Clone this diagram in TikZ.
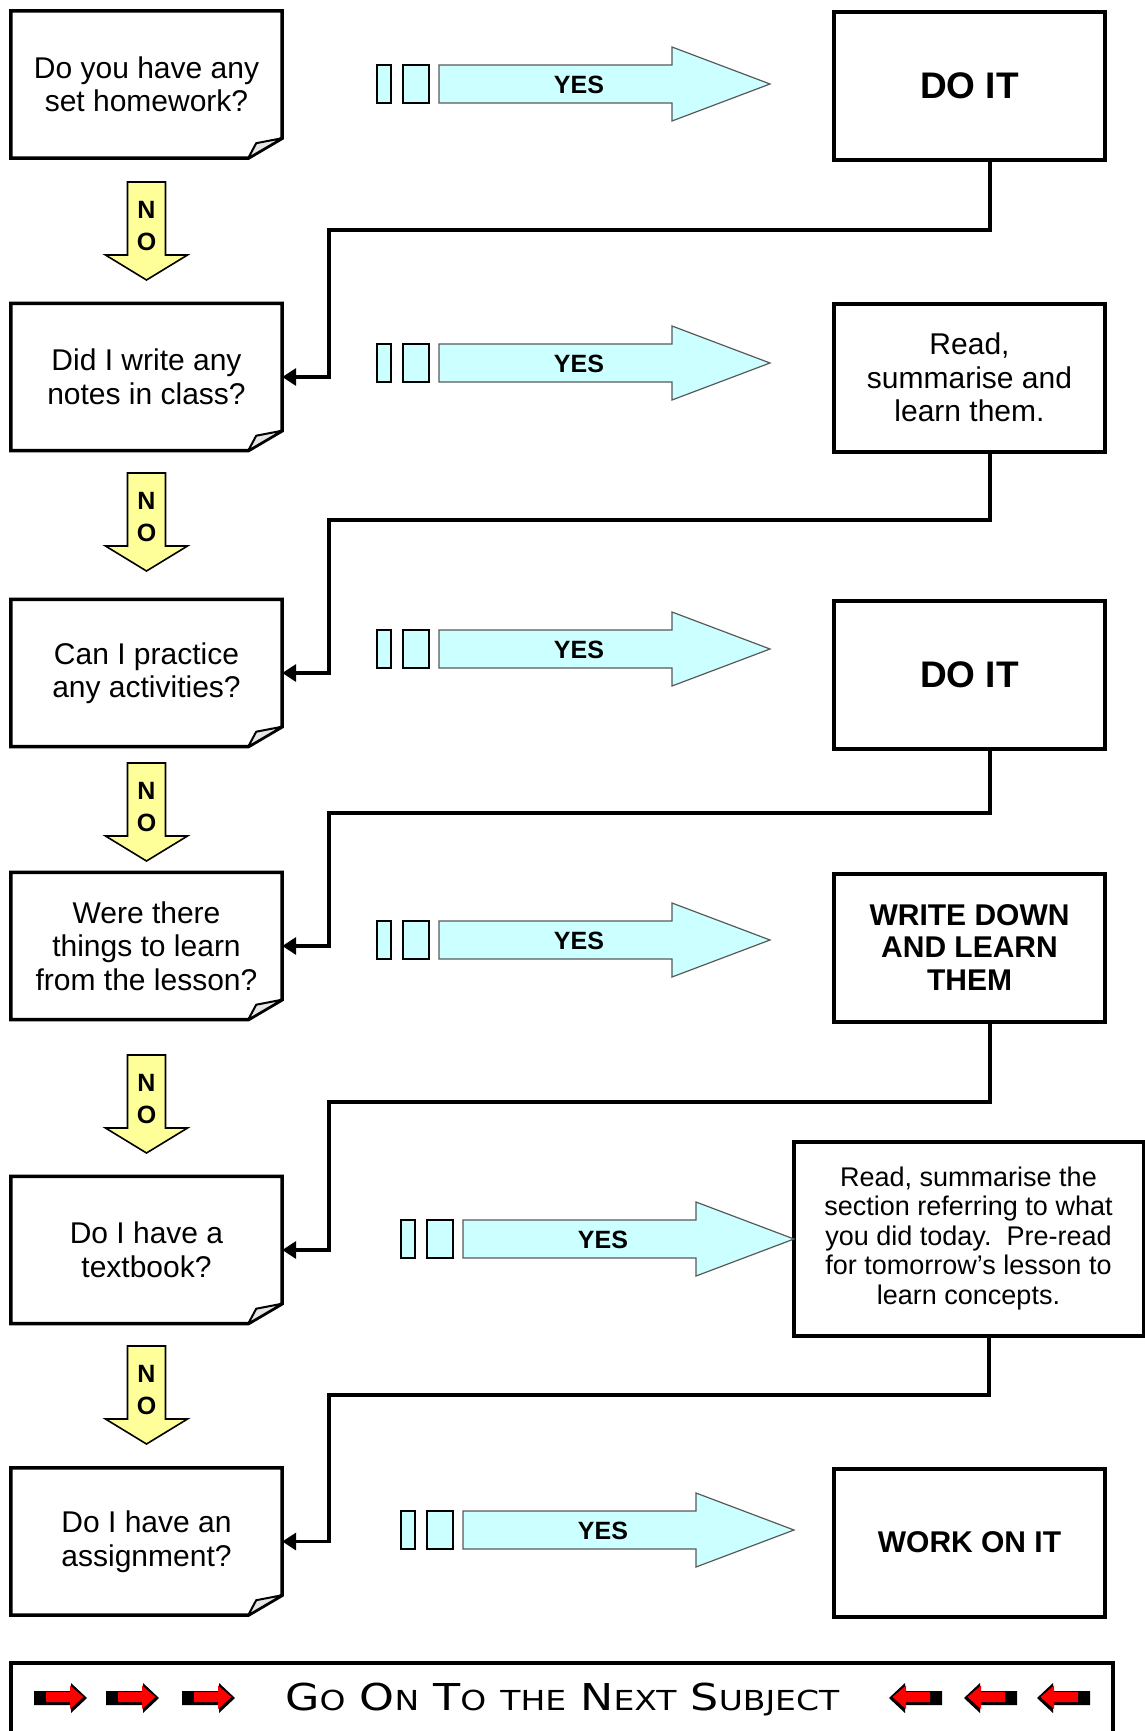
\documentclass[tikz,border=0pt]{standalone}
\usepackage{fontspec}
\newfontfamily\arialfont{Liberation Sans}
\newfontfamily\bannerfont{DejaVu Sans}
\newcommand\lowcaps[1]{{\fontsize{27.5}{30}\selectfont #1}}
\usetikzlibrary{arrows.meta}
\definecolor{yescyan}{HTML}{CCFFFF}
\definecolor{noyellow}{HTML}{FFFF99}
\definecolor{banred}{HTML}{FF0000}

\begin{document}
\begin{tikzpicture}[x = 1pt, y = -1pt]
	\tikzstyle{questionStyle} = [minimum width = 271pt, minimum height = 147pt, inner sep = 0pt, align = center, font = \arialfont\fontsize{30}{33.5}\selectfont]
	\tikzstyle{frameStyle} = [line width = 3.5pt, line join = miter]
	\tikzstyle{foldStyle} = [line width = 2pt, fill = gray!20, line join = round]
	\tikzstyle{answerStyle} = [draw, line width = 4pt, minimum width = 271pt, minimum height = 148pt, inner sep = 0pt, align = center, font = \arialfont\fontsize{30}{33.5}\selectfont]
	\tikzstyle{bigStyle} = [font = \arialfont\bfseries\fontsize{37}{44}\selectfont]
	\tikzstyle{capsStyle} = [font = \arialfont\bfseries\fontsize{30}{32.5}\selectfont]
	\tikzstyle{linkStyle} = [line width = 3.5pt, -{Triangle[length = 14pt, width = 17pt]}]
	\tikzstyle{yesStyle} = [fill = yescyan, draw = black!65, line width = 1.2pt]
	\tikzstyle{stubStyle} = [fill = yescyan, draw = black, line width = 1.6pt]
	\tikzstyle{noStyle} = [fill = noyellow, draw = black, line width = 1.6pt]
	\tikzstyle{labelStyle} = [font = \arialfont\bfseries\fontsize{25}{30}\selectfont, inner sep = 0pt]
	\useasboundingbox (0, 0) rectangle (1145, 1731);
	% questions
	\node[questionStyle] (q1) at (146.5, 84.5) {Do you have any\\set homework?};
	\node[questionStyle] (q2) at (146.5, 377) {Did I write any\\notes in class?};
	\node[questionStyle] (q3) at (146.5, 673) {Can I practice\\any activities?};
	\node[questionStyle] (q4) at (146.5, 946) {Were there\\things to learn\\from the lesson?};
	\node[questionStyle] (q5) at (146.5, 1250) {Do I have a\\textbook?};
	\node[questionStyle] (q6) at (146.5, 1541.5) {Do I have an\\assignment?};
	\foreach \n in {1,...,6}{
		\draw[frameStyle] (q\n.north west) -- (q\n.north east) -- ([yshift = 20pt]q\n.south east) -- ([xshift = -34pt]q\n.south east) -- (q\n.south west) -- cycle;
		\draw[foldStyle] ([xshift = -34pt]q\n.south east) -- ([xshift = -26pt, yshift = 15pt]q\n.south east) -- ([yshift = 20pt]q\n.south east) -- cycle;
	}
	% answers
	\node[answerStyle, bigStyle] (a1) at (969.5, 86) {DO IT};
	\node[answerStyle] (a2) at (969.5, 377.5) {Read,\\summarise and\\learn them.};
	\node[answerStyle, bigStyle] (a3) at (969.5, 674.5) {DO IT};
	\node[answerStyle, capsStyle] (a4) at (969.5, 947.5) {WRITE DOWN\\AND LEARN\\THEM};
	\node[answerStyle, minimum width = 350pt, minimum height = 194pt, font = \arialfont\fontsize{27}{29.5}\selectfont] (a5) at (968.5, 1238.5) {Read, summarise the\\section referring to what\\you did today.\ \ Pre-read\\for tomorrow’s lesson to\\learn concepts.};
	\node[answerStyle, capsStyle] (a6) at (969.5, 1542.5) {WORK ON IT};
	% no arrows
	\foreach \c [count = \k] in {231, 522, 812, 1104, 1395}{
		\draw[noStyle] (127.5, \c-49) -- (165.5, \c-49) -- (165.5, \c+24) -- (187.5, \c+24) -- (146.5, \c+49) -- (105.5, \c+24) -- (127.5, \c+24) -- cycle;
		\node[labelStyle] (n\k) at (146.5, \c-21) {N};
		\node[labelStyle] (o\k) at (146.5, \c+11) {O};
	}
	% yes arrows
	\foreach \c/\dx [count = \k] in {84/0, 363/0, 649/0, 940/0, 1239/24, 1530/24}{
		\draw[stubStyle] (377+\dx, \c-19) rectangle (391+\dx, \c+19);
		\draw[stubStyle] (403+\dx, \c-19) rectangle (429+\dx, \c+19);
		\draw[yesStyle] (439+\dx, \c-19) -- (672+\dx, \c-19) -- (672+\dx, \c-37) -- (770+\dx, \c) -- (672+\dx, \c+37) -- (672+\dx, \c+19) -- (439+\dx, \c+19) -- cycle;
		\node[labelStyle] (yes\k) at (579+\dx, \c+1) {YES};
	}
	% back to the next question
	\foreach \i/\j/\h in {1/2/230, 2/3/520, 3/4/813, 4/5/1102, 5/6/1395}
		\draw[linkStyle] ([xshift = 20.5pt]a\i.south) |- (329, \h) |- (q\j.east);
	% banner
	\node[draw, line width = 4pt, minimum width = 1102pt, minimum height = 110pt, inner sep = 0pt] (banner) at (562, 1718) {};
	\node[font = \bannerfont\fontsize{37}{40}\selectfont, anchor = base west, inner sep = 0pt] (next) at (285, 1710) {\resizebox{554pt}{27.5pt}{G\lowcaps{O} O\lowcaps{N} T\lowcaps{O} \lowcaps{THE} N\lowcaps{EXT} S\lowcaps{UBJECT}}};
	\foreach \x/\s in {34/1, 106/1, 182/1, 942/-1, 1017/-1, 1090/-1}{
		\begin{scope}[shift = {(\x, 0)}, xscale = \s]
			\fill[black] (0, 1691) -- (37, 1691) -- (37, 1683) -- (53, 1698) -- (37, 1713) -- (37, 1705) -- (0, 1705) -- cycle;
			\fill[banred] (12, 1692) -- (36, 1692) -- (36, 1685.5) -- (49.5, 1697) -- (36, 1709) -- (36, 1702) -- (12, 1702) -- cycle;
		\end{scope}
	}
\end{tikzpicture}
\end{document}
